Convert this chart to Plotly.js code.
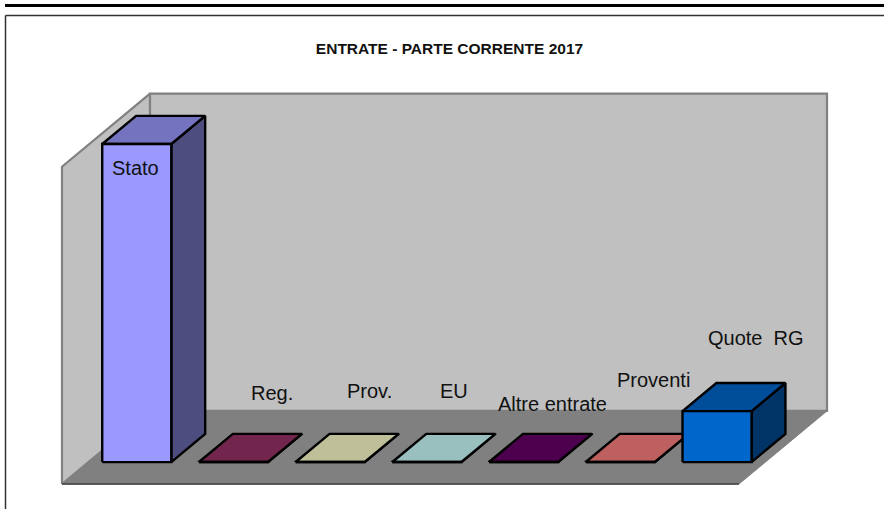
<!DOCTYPE html>
<html>
<head>
<meta charset="utf-8">
<script src="https://cdn.plot.ly/plotly-3.0.1.min.js"></script>
<style>html,body{margin:0;padding:0;background:#fff;overflow:hidden}</style>
</head>
<body>
<div id="chart" style="width:884px;height:509px"></div>
<script>
// ---- data (unlabeled value scale) ----
var categories = ['Stato', 'Reg.', 'Prov.', 'EU', 'Altre entrate', 'Proventi', 'Quote  RG'];
var values = [86.2, 0.03, 0.03, 0.03, 0.03, 0.03, 13.8];
var baseColors = ['#9999FF', '#993366', '#FFFFCC', '#CCFFFF', '#660066', '#FF8080', '#0066CC'];
var chartTitle = 'ENTRATE - PARTE CORRENTE 2017';
var axisMax = 86;

// ---- label offsets from each bar's front-top centre, in pixels ----
var labelShiftX = [-1, 39, 39, 27, 29, 33, 39];
var labelShiftY = [24, -69, -71, -71, -58, -82, -73];

// ---- oblique 3D projection, expressed in axis units ----
var depthX = 0.91, depthY = 19.8;   // shift of the full floor depth
var barHalf = 0.357;                // half bar width, in categories
var barFront = 0.30, barBack = 0.685; // bar position along the depth
var xMin = -0.5, xMax = categories.length - 0.5;

function P(x, v, d) { return [x + d * depthX, v + d * depthY]; }
function shade(hex, f) {
  var n = parseInt(hex.slice(1), 16);
  var c = [(n >> 16) & 255, (n >> 8) & 255, n & 255].map(function (a) { return Math.round(a * f); });
  return 'rgb(' + c.join(',') + ')';
}
function poly(pts, fill, lineColor, lineWidth) {
  var xs = pts.map(function (p) { return p[0]; }), ys = pts.map(function (p) { return p[1]; });
  xs.push(xs[0]); ys.push(ys[0]);
  return {
    type: 'scatter', mode: 'lines', x: xs, y: ys, fill: 'toself', fillcolor: fill,
    line: { color: lineColor, width: lineWidth, simplify: false }, hoverinfo: 'skip', showlegend: false
  };
}

var traces = [];
// left wall, back wall, floor
traces.push(poly([P(xMin, 0, 0), P(xMin, axisMax, 0), P(xMin, axisMax, 1), P(xMin, 0, 1)], '#C0C0C0', '#808080', 2.2));
traces.push(poly([P(xMin, 0, 1), P(xMin, axisMax, 1), P(xMax, axisMax, 1), P(xMax, 0, 1)], '#C0C0C0', '#808080', 2.2));
traces.push(poly([P(xMin, 0, 0), P(xMax, 0, 0), P(xMax, 0, 1), P(xMin, 0, 1)], '#808080', '#808080', 1));
var fe0 = P(xMin, 0, 0), fe1 = P(xMax, 0, 0);
traces.push({ type: 'scatter', mode: 'lines', x: [fe0[0], fe1[0]], y: [fe0[1], fe1[1]],
  line: { color: '#404040', width: 1.5 }, hoverinfo: 'skip', showlegend: false });

// bars
var annotations = [];
categories.forEach(function (name, i) {
  var v = values[i], l = i - barHalf, r = i + barHalf, c = baseColors[i];
  traces.push(poly([P(r, 0, barFront), P(r, 0, barBack), P(r, v, barBack), P(r, v, barFront)], shade(c, 0.5), '#000', 2.4));
  traces.push(poly([P(l, v, barFront), P(r, v, barFront), P(r, v, barBack), P(l, v, barBack)], shade(c, 0.75), '#000', 2.4));
  traces.push(poly([P(l, 0, barFront), P(r, 0, barFront), P(r, v, barFront), P(l, v, barFront)], c, '#000', 2.4));
  var a = P(i, v, barFront);
  annotations.push({
    x: a[0], y: a[1], xref: 'x', yref: 'y', text: name, showarrow: false,
    xshift: labelShiftX[i], yshift: -labelShiftY[i], xanchor: 'center', yanchor: 'middle',
    font: { family: 'Liberation Sans', size: 20, color: '#111' }
  });
});

var layout = {
  width: 884, height: 509,
  margin: { l: 0, r: 0, t: 0, b: 0 },
  paper_bgcolor: '#fff', plot_bgcolor: 'rgba(0,0,0,0)',
  showlegend: false,
  title: { text: '<b>' + chartTitle + '</b>', x: 449.5 / 884, xanchor: 'center', y: 1 - 48.5 / 509, yanchor: 'middle',
    font: { family: 'Liberation Sans', size: 15.5, color: '#111' } },
  xaxis: { visible: false, range: [-62 / 96.714 - 0.5, (884 - 62) / 96.714 - 0.5], fixedrange: true },
  yaxis: { visible: false, range: [-25 / 3.69, 484 / 3.69], fixedrange: true },
  annotations: annotations,
  shapes: [
    { type: 'line', xref: 'paper', yref: 'paper', x0: 5 / 884, x1: 1, y0: 1 - 5.5 / 509, y1: 1 - 5.5 / 509, line: { color: '#000', width: 3 } },
    { type: 'line', xref: 'paper', yref: 'paper', x0: 5.5 / 884, x1: 1, y0: 1 - 15.5 / 509, y1: 1 - 15.5 / 509, line: { color: '#333', width: 1.5 } },
    { type: 'line', xref: 'paper', yref: 'paper', x0: 5.5 / 884, x1: 5.5 / 884, y0: 1 - 15.5 / 509, y1: 0, line: { color: '#333', width: 1.5 } }
  ]
};
Plotly.newPlot('chart', traces, layout, { displayModeBar: false, staticPlot: true });
</script>
</body>
</html>
